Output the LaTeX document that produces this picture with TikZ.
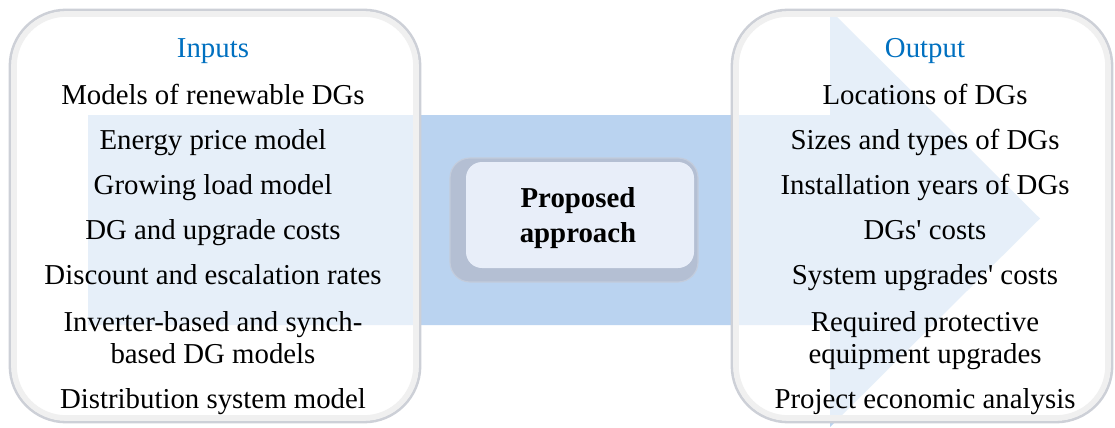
\documentclass[tikz,border=0pt]{standalone}
\usepackage{fontspec}
\setmainfont{Liberation Serif}
\definecolor{arrowblue}{HTML}{BAD3F0}
\definecolor{headblue}{HTML}{0070C0}
\definecolor{boxedge}{HTML}{CDD0D7}
\definecolor{appface}{HTML}{E8EEF9}
\definecolor{appedge}{HTML}{B4BFD3}
\tikzset{
	panel/.style={rounded corners=1.4cm, fill=white, fill opacity=0.64, draw=boxedge, line width=2pt},
	rim/.style={rounded corners=1.3cm, draw=black!6, line width=4pt},
	item/.style={anchor=base, align=center, font=\fontsize{20.5}{22.7}\selectfont},
	head/.style={item, text=headblue},
	bevel/.style={rounded corners=0.5cm, fill=appedge, draw=appedge!80, line width=0.8pt},
	face/.style={rounded corners=0.4cm, fill=appface},
}
\begin{document}
\begin{tikzpicture}[x=0.025cm, y=-0.025cm]
	\useasboundingbox (0,0) rectangle (1115,427);
	% big arrow behind
	\fill[arrowblue] (88,115) -- (830,115) -- (830,10) -- (1040,218.5) -- (830,427) -- (830,325) -- (88,325) -- cycle;
	% panels
	\draw[panel] (10,10) rectangle (420,422);
	\draw[rim] (14,14) rectangle (416,418);
	\draw[panel] (732,10) rectangle (1112,422);
	\draw[rim] (736,14) rectangle (1108,418);
	% inputs
	\node[head] (inputs) at (213,58) {Inputs};
	\node[item] (in1) at (213,104) {Models of renewable DGs};
	\node[item] (in2) at (213,149) {Energy price model};
	\node[item] (in3) at (213,194) {Growing load model};
	\node[item] (in4) at (213,239) {DG and upgrade costs};
	\node[item] (in5) at (213,284) {Discount and escalation rates};
	\node[item] (in6) at (213,363) {Inverter-based and synch-\\based DG models};
	\node[item] (in7) at (213,408) {Distribution system model};
	% outputs
	\node[head] (output) at (925,58) {Output};
	\node[item] (out1) at (925,104) {Locations of DGs};
	\node[item] (out2) at (925,149) {Sizes and types of DGs};
	\node[item] (out3) at (925,194) {Installation years of DGs};
	\node[item] (out4) at (925,239) {DGs\textquotesingle{} costs};
	\node[item] (out5) at (925,284) {System upgrades\textquotesingle{} costs};
	\node[item] (out6) at (925,363) {Required protective\\equipment upgrades};
	\node[item] (out7) at (925,408) {Project economic analysis};
	% middle box
	\fill[bevel] (450,158) rectangle (698,282);
	\fill[face] (466,162) rectangle (694,268);
	\node[align=center, font=\bfseries\fontsize{20.5}{24.8}\selectfont] (approach) at (578,218) {Proposed\\approach};
\end{tikzpicture}
\end{document}
